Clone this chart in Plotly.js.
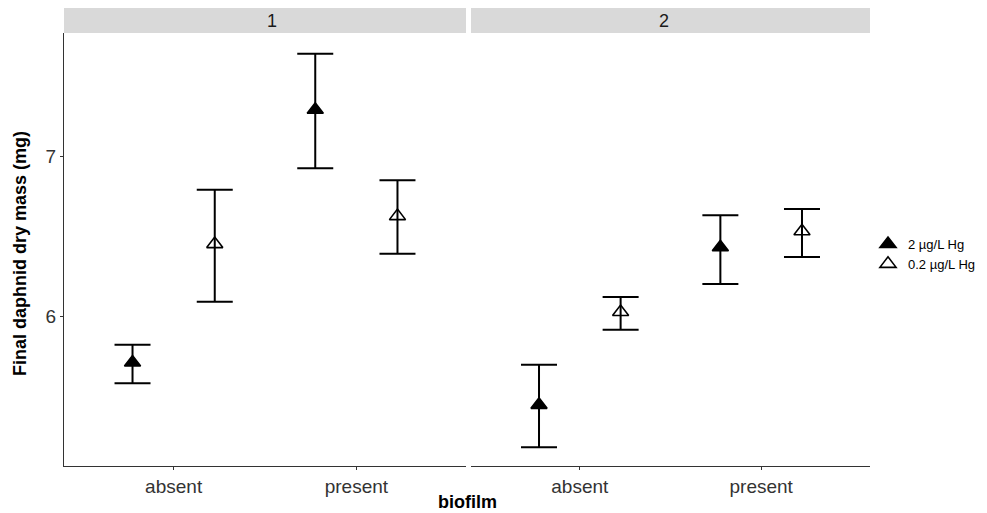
<!DOCTYPE html>
<html>
<head>
<meta charset="utf-8">
<script src="https://cdn.plot.ly/plotly-3.0.1.min.js"></script>
<style>html,body{margin:0;padding:0;background:#fff}#chart{width:987px;height:513px}</style>
</head>
<body>
<div id="chart"></div>
<script>
// Final daphnid dry mass by biofilm treatment, faceted by experiment
const panels = ["1", "2"];
const categories = ["absent", "present"];
const groups = ["2 µg/L Hg", "0.2 µg/L Hg"];

// mean, upper and lower limits per panel: [group][category]
const meanP1 = [[5.71, 7.29], [6.45, 6.625]];
const upperP1 = [[5.82, 7.64], [6.79, 6.85]];
const lowerP1 = [[5.58, 6.925], [6.09, 6.39]];

const meanP2 = [[5.445, 6.43], [6.025, 6.53]];
const upperP2 = [[5.695, 6.63], [6.12, 6.67]];
const lowerP2 = [[5.18, 6.2], [5.915, 6.37]];

const yTicks = [6, 7];

const means = [meanP1, meanP2];
const uppers = [upperP1, upperP2];
const lowers = [lowerP1, lowerP2];
const symbols = ["triangle-up", "triangle-up-open"];
const dodge = [-0.225, 0.225];

const traces = [];
panels.forEach((p, pi) => {
  groups.forEach((g, gi) => {
    const m = means[pi][gi], u = uppers[pi][gi], l = lowers[pi][gi];
    traces.push({
      type: "scatter", mode: "markers",
      name: g, legendgroup: g, showlegend: pi === 0,
      x: categories.map((c, ci) => ci + 1 + dodge[gi]),
      y: m,
      xaxis: pi === 0 ? "x" : "x2", yaxis: pi === 0 ? "y" : "y2",
      marker: { symbol: symbols[gi], size: 14, color: "#000", line: { color: "#000", width: 1.6 } },
      error_y: {
        type: "data", symmetric: false,
        array: m.map((v, i) => u[i] - v),
        arrayminus: m.map((v, i) => v - l[i]),
        color: "#000", thickness: 2, width: 18
      },
      hoverinfo: "skip"
    });
  });
});

const W = 806, H = 433;
const d1 = (466 - 64) / W, d2 = (471 - 64) / W;
const FAMILY = "Liberation Sans, Arial, sans-serif";
const axisFont = { family: FAMILY, size: 19, color: "#333" };
const xCommon = {
  range: [0.4, 2.6], tickvals: [1, 2], ticktext: categories,
  showline: true, linecolor: "#333", linewidth: 1,
  ticks: "outside", ticklen: 3, tickcolor: "#333",
  showgrid: false, zeroline: false, tickfont: axisFont, fixedrange: true
};
const yCommon = {
  range: [5.0625, 7.77], tickvals: yTicks, showgrid: false, zeroline: false,
  tickfont: axisFont, fixedrange: true
};

const layout = {
  width: 987, height: 513,
  margin: { l: 64, r: 117, t: 33, b: 47, autoexpand: false },
  paper_bgcolor: "#fff", plot_bgcolor: "#fff",
  font: { family: FAMILY, color: "#000" },
  xaxis: Object.assign({}, xCommon, { domain: [0, d1], anchor: "y" }),
  xaxis2: Object.assign({}, xCommon, { domain: [d2, 1], anchor: "y2" }),
  yaxis: Object.assign({}, yCommon, {
    anchor: "x", showline: true, linecolor: "#333", linewidth: 1,
    ticks: "outside", ticklen: 3, tickcolor: "#333"
  }),
  yaxis2: Object.assign({}, yCommon, { anchor: "x2", matches: "y", showticklabels: false, showline: false, ticks: "" }),
  shapes: [
    { type: "rect", xref: "paper", yref: "paper", x0: 0, x1: d1, y0: 1, y1: 1 + 25 / H, fillcolor: "#d9d9d9", line: { width: 0 } },
    { type: "rect", xref: "paper", yref: "paper", x0: d2, x1: 1, y0: 1, y1: 1 + 25 / H, fillcolor: "#d9d9d9", line: { width: 0 } }
  ],
  annotations: [
    { xref: "paper", yref: "paper", x: d1 / 2, y: 1 + 12.5 / H, text: panels[0], showarrow: false, font: { size: 18, color: "#1a1a1a" }, yanchor: "middle" },
    { xref: "paper", yref: "paper", x: (d2 + 1) / 2, y: 1 + 12.5 / H, text: panels[1], showarrow: false, font: { size: 18, color: "#1a1a1a" }, yanchor: "middle" },
    { xref: "paper", yref: "paper", x: 0.5, y: -36 / H, text: "<b>biofilm</b>", showarrow: false, font: { size: 18, color: "#000" }, yanchor: "middle" },
    { xref: "paper", yref: "paper", x: -44 / W, y: (466 - 254) / H, text: "<b>Final daphnid dry mass (mg)</b>", textangle: -90, showarrow: false, font: { size: 18, color: "#000" }, xanchor: "center", yanchor: "middle" }
  ],
  legend: {
    x: (868 - 64) / W, y: (466 - 229) / H, xanchor: "left", yanchor: "top",
    font: { size: 13, color: "#000" }, bgcolor: "rgba(0,0,0,0)", tracegroupgap: 0,
    itemwidth: 30
  },
  showlegend: true
};

Plotly.newPlot("chart", traces, layout, { displayModeBar: false, staticPlot: true });
</script>
</body>
</html>
